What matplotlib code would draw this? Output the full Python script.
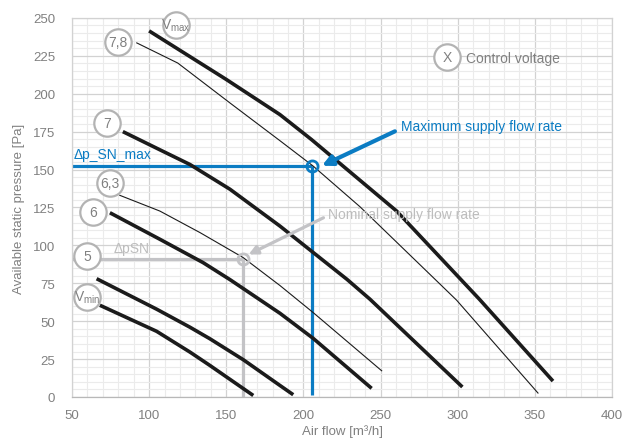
import numpy as np
import matplotlib
matplotlib.use("Agg")
import matplotlib.pyplot as plt
from matplotlib.ticker import MultipleLocator

plt.rcParams['font.family'] = ['Liberation Sans', 'DejaVu Sans']
plt.rcParams['mathtext.fontset'] = 'custom'
plt.rcParams['mathtext.rm'] = 'Liberation Sans'

##### Fan curves (air flow m3/h, pressure Pa)
vmax_x = [100, 150, 184.8, 205.3, 260.4, 314, 361.7]
vmax_y = [241.4, 209.4, 186.2, 169.7, 122.6, 64.5, 10.5]

v78_x = [92, 118.6, 152.4, 184.8, 206.4, 236.6, 285.3, 299.3, 352]
v78_y = [233.5, 220.2, 193.9, 169, 152.2, 125.5, 77.6, 63.8, 2.6]

v7_x = [83, 107, 126.5, 152.4, 184.8, 228.2, 243.1, 303]
v7_y = [175, 163, 153.3, 137, 112.7, 77.6, 64.5, 6.6]

v63_x = [81, 107, 133, 161, 184.8, 206.4, 250.7]
v63_y = [133, 122.6, 108.4, 91.9, 73.5, 55.6, 17.3]

v6_x = [74.6, 107, 135, 152.4, 184.8, 206.4, 244.2]
v6_y = [121.5, 104, 88.6, 77.4, 55.2, 38.6, 5.7]

v5_x = [66, 104.9, 126.5, 139.4, 161, 184.8, 193.4]
v5_y = [78, 57.9, 46, 38.4, 24.6, 7.6, 1.5]

vmin_x = [68.1, 104.9, 126.5, 139.4, 167.5]
vmin_y = [60.5, 43.3, 29.6, 20.8, 1]

# working points
max_flow, max_dp = 205.5, 152.2
nom_flow, nom_dp = 161, 90.8

# control voltage labels: text, x, y
label_text = [r'$\mathregular{V_{max}}$', '7,8', '7', '6,3', '6', '5',
              r'$\mathregular{V_{min}}$']
label_x = [117.4, 79.8, 72.7, 74.6, 63.6, 59.7, 59.7]
label_y = [245.4, 234, 181, 141.4, 121.7, 92.8, 65.8]

blue = '#0b7cc3'
grey_line = '#c3c3c6'
grey_text = '#808080'
ink = '#1b1b1b'

fig = plt.figure(figsize=(6.31, 4.39), dpi=100)
ax = fig.add_axes([0.114, 0.0934, 0.856, 0.8636])

ax.set_xlim(50, 400)
ax.set_ylim(0, 250)
ax.xaxis.set_major_locator(MultipleLocator(50))
ax.yaxis.set_major_locator(MultipleLocator(25))
ax.xaxis.set_minor_locator(MultipleLocator(10))
ax.yaxis.set_minor_locator(MultipleLocator(5))
ax.grid(which='minor', color='#ebebeb', lw=0.8)
ax.grid(which='major', color='#d2d2d2', lw=0.9)
ax.set_axisbelow(True)
ax.tick_params(which='both', length=0, labelsize=9.5, labelcolor=grey_text)
ax.tick_params(axis='y', pad=12)
ax.tick_params(axis='x', pad=9)
for s in ax.spines.values():
    s.set_color('#d2d2d2')
    s.set_linewidth(0.9)
ax.spines['bottom'].set_color('#b8b8b8')

ax.set_xlabel('Air flow [m³/h]', fontsize=9.5, color=grey_text, labelpad=2)
ax.set_ylabel('Available static pressure [Pa]', fontsize=9.5,
              color=grey_text, labelpad=6)

##### Nominal point (grey)
ax.plot([50, nom_flow], [nom_dp, nom_dp], color=grey_line, lw=2.3,
        solid_capstyle='butt', zorder=2)
ax.plot([nom_flow, nom_flow], [nom_dp, 0], color=grey_line, lw=2.3,
        solid_capstyle='butt', zorder=2)

##### Maximum point (blue)
ax.plot([50, max_flow], [max_dp, max_dp], color=blue, lw=2.3,
        solid_capstyle='butt', zorder=2)
ax.plot([max_flow, max_flow], [max_dp, 1.5], color=blue, lw=2.3,
        solid_capstyle='butt', zorder=2)

##### Curves
for cx, cy in [(vmax_x, vmax_y), (v7_x, v7_y), (v6_x, v6_y),
               (v5_x, v5_y), (vmin_x, vmin_y)]:
    ax.plot(cx, cy, color=ink, lw=2.6, solid_capstyle='butt',
            solid_joinstyle='round', zorder=3)
for cx, cy in [(v78_x, v78_y), (v63_x, v63_y)]:
    ax.plot(cx, cy, color=ink, lw=0.8, zorder=3)

ax.plot([nom_flow], [nom_dp], 'o', ms=8, mfc='none', mec=grey_line,
        mew=2, zorder=4)
ax.plot([max_flow], [max_dp], 'o', ms=8, mfc='none', mec=blue,
        mew=2, zorder=4)

##### Annotations
ax.annotate('', xy=(212, 152.5), xytext=(259.3, 175.2),
            arrowprops=dict(arrowstyle='-|>', color=blue, lw=3,
                            mutation_scale=15, shrinkA=0, shrinkB=0),
            zorder=5)
ax.text(263, 178.5, 'Maximum supply flow rate', color=blue, fontsize=10,
        va='center', ha='left')
ax.annotate('', xy=(164.5, 94), xytext=(213, 118.2),
            arrowprops=dict(arrowstyle='-|>', color=grey_line, lw=2.3,
                            mutation_scale=13, shrinkA=0, shrinkB=0),
            zorder=5)
ax.text(216, 120.4, 'Nominal supply flow rate', color='#bdbdbd',
        fontsize=10, va='center', ha='left')
ax.text(50.8, 160.5, 'Δp_SN_max', color=blue, fontsize=10,
        va='center', ha='left')
ax.text(88.7, 98, 'ΔpSN', color='#bdbdbd', fontsize=10,
        va='center', ha='center')

for t, lx, ly in zip(label_text, label_x, label_y):
    ax.plot([lx], [ly], 'o', ms=19, mfc='white', mec='#b3b3b3', mew=1.6,
            zorder=6, clip_on=False)
    ax.text(lx, ly, t, color=grey_text, fontsize=10, ha='center',
            va='center', zorder=7)

ax.plot([293], [224.3], 'o', ms=19, mfc='white', mec='#b3b3b3', mew=1.6,
        zorder=6)
ax.text(293, 224.3, 'X', color=grey_text, fontsize=10, ha='center',
        va='center', zorder=7)
ax.text(305.3, 223.7, 'Control voltage', color=grey_text, fontsize=10,
        ha='left', va='center')

plt.savefig('out.png', dpi=100)
